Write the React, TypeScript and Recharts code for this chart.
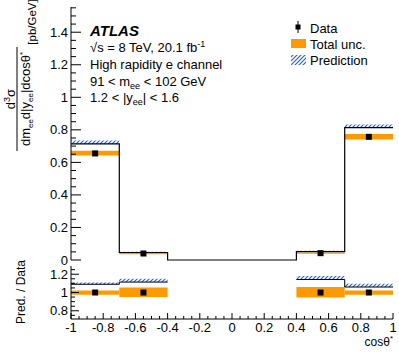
import React from 'react';
import { ComposedChart, Line, Scatter, XAxis, YAxis, ReferenceArea, Customized } from 'recharts';

// cos(theta*) binning
const binEdges = [-1, -0.7, -0.4, 0.4, 0.7, 1];
// bins that carry a measurement (index into binEdges)
const measuredBins = [0, 1, 3, 4];

// prediction histogram [pb/GeV], one value per bin
const predValues = [0.714, 0.046, 0, 0.052, 0.813];
const predBandHigh = [0.735, 0.051, 0, 0.057, 0.833];

// data points (measured bins only)
const dataX = [-0.85, -0.55, 0.55, 0.85];
const dataY = [0.655, 0.04, 0.042, 0.757];
const totUncLow = [0.643, 0.036, 0.038, 0.741];
const totUncHigh = [0.671, 0.044, 0.046, 0.774];

// ratio panel (measured bins only)
const ratioPred = [1.09, 1.114, 1.142, 1.06];
const ratioPredHigh = [1.11, 1.15, 1.18, 1.095];
const ratioUncLow = [0.975, 0.95, 0.945, 0.975];
const ratioUncHigh = [1.022, 1.055, 1.059, 1.022];
const ratioData = [1, 1, 1, 1];

// axis labels
const xMajor = [-1, -0.8, -0.6, -0.4, -0.2, 0, 0.2, 0.4, 0.6, 0.8, 1];
const yMajor = [0, 0.2, 0.4, 0.6, 0.8, 1, 1.2, 1.4];
const rMajor = [0.8, 1, 1.2];

const FONT = '"Liberation Sans", Arial, Helvetica, sans-serif';
const ORANGE = '#ff9900';

const steps = (a: number, b: number, s: number) => {
  const out: number[] = [];
  for (let v = a; v <= b + 1e-9; v += s) out.push(Math.round(v * 1000) / 1000);
  return out;
};
const xTicks = steps(-1, 1, 0.05);
const yTicks = steps(0, 1.55, 0.05);
const rTicks = steps(0.75, 1.25, 0.05);

const isMajor = (v: number, majors: number[]) => majors.some((m) => Math.abs(m - v) < 1e-6);

// ROOT style inward ticks, drawn by the axis' own tick renderer
const xTick = (majors: number[], big: number, small: number, dir: number, labels: boolean) => (p: any) => {
  const major = isMajor(p.payload.value, majors);
  return (
    <g>
      <line x1={p.x} x2={p.x} y1={p.y} y2={p.y + dir * (major ? big : small)} stroke="#000" />
      {labels && major && (
        <text x={p.x} y={p.y + 13} textAnchor="middle" fontSize={13} fontFamily={FONT} fill="#000">
          {String(p.payload.value)}
        </text>
      )}
    </g>
  );
};
const yTick = (majors: number[], big: number, small: number, dir: number, labels: boolean) => (p: any) => {
  const major = isMajor(p.payload.value, majors);
  return (
    <g>
      <line x1={p.x} x2={p.x + dir * (major ? big : small)} y1={p.y} y2={p.y} stroke="#000" />
      {labels && major && (
        <text x={p.x - 3} y={p.y + 4.5} textAnchor="end" fontSize={13} fontFamily={FONT} fill="#000">
          {String(p.payload.value)}
        </text>
      )}
    </g>
  );
};

const predHist = binEdges.map((x, i) => ({ x, y: predValues[Math.min(i, predValues.length - 1)] }));
const points = dataX.map((x, i) => ({ x, y: dataY[i] }));
const ratioPoints = dataX.map((x, i) => ({ x, y: ratioData[i] }));
const ratioLeft = [0, 1, 1].map((k, i) => ({ x: binEdges[i], y: ratioPred[k] }));
const ratioRight = [2, 3, 3].map((k, i) => ({ x: binEdges[i + 3], y: ratioPred[k] }));

const square = (p: any) => <rect x={p.cx - 3} y={p.cy - 3} width={6} height={6} fill="#000" />;

const TopText = () => (
  <g fontFamily={FONT} fill="#000">
    <text x={90} y={36} fontSize={15} fontWeight="bold" fontStyle="italic">ATLAS</text>
    <text x={90} y={52} fontSize={13}>
      √s = 8 TeV, 20.1 fb<tspan dy={-5} fontSize={9}>-1</tspan>
    </text>
    <text x={90} y={69} fontSize={13}>High rapidity e channel</text>
    <text x={90} y={85.5} fontSize={13}>
      91 &lt; m<tspan dy={3} fontSize={9}>ee</tspan>
      <tspan dy={-3}> &lt; 102 GeV</tspan>
    </text>
    <text x={90} y={102} fontSize={13}>
      1.2 &lt; |y<tspan dy={3} fontSize={9}>ee</tspan>
      <tspan dy={-3}>| &lt; 1.6</tspan>
    </text>

    {/* legend */}
    <line x1={298} x2={298} y1={21} y2={33} stroke="#000" />
    <rect x={295.5} y={24.5} width={5} height={5} fill="#000" />
    <text x={310} y={33} fontSize={13}>Data</text>
    <rect x={291} y={39} width={15} height={9} fill={ORANGE} />
    <text x={310} y={49} fontSize={13}>Total unc.</text>
    <rect x={291} y={55} width={15} height={10} fill="url(#hatchBlue)" />
    <text x={310} y={65} fontSize={13}>Prediction</text>

    {/* y axis title */}
    <g transform="translate(17,99) rotate(-90)">
      <text x={0} y={-2.5} textAnchor="middle" fontSize={13}>
        d<tspan dy={-5} fontSize={9}>3</tspan>
        <tspan dy={5}>σ</tspan>
      </text>
      <line x1={-52} x2={52} y1={0} y2={0} stroke="#000" />
      <text x={0} y={13} textAnchor="middle" fontSize={13}>
        dm<tspan dy={3} fontSize={8}>ee</tspan>
        <tspan dy={-3}>d|y</tspan>
        <tspan dy={3} fontSize={8}>ee</tspan>
        <tspan dy={-3}>|dcosθ</tspan>
        <tspan dy={-5} fontSize={8}>*</tspan>
      </text>
    </g>
    <text transform="translate(36,22) rotate(-90)" textAnchor="middle" fontSize={11.5}>[pb/GeV]</text>
  </g>
);

const BottomText = () => (
  <g fontFamily={FONT} fill="#000">
    <text transform="translate(25,32) rotate(-90)" textAnchor="middle" fontSize={12}>Pred. / Data</text>
    <text x={393} y={86} textAnchor="end" fontSize={12}>
      cosθ<tspan dy={-5} fontSize={8}>*</tspan>
    </text>
  </g>
);

const App: React.FC = () => {
  return (
    <div style={{ position: 'absolute', left: 0, top: 0, width: 399, height: 353, background: '#fff' }}>
      <svg width={0} height={0} style={{ position: 'absolute' }}>
        <defs>
          <pattern id="hatchBlue" patternUnits="userSpaceOnUse" width={4} height={4}>
            <path d="M-1,1 l2,-2 M0,4 l4,-4 M3,5 l2,-2" stroke="#1f63d8" strokeWidth={1.2} />
          </pattern>
        </defs>
      </svg>

      {/* main panel */}
      <div style={{ position: 'absolute', left: 0, top: 0 }}>
        <ComposedChart width={399} height={270} margin={{ top: 7, right: 6, bottom: 10, left: 0 }}>
          <XAxis dataKey="x" type="number" domain={[-1, 1]} ticks={xTicks} interval={0} height={0}
            tickSize={0} tickMargin={0} tickLine={false} axisLine={{ stroke: '#000' }}
            tick={xTick(xMajor, 8, 4, -1, false)} />
          <XAxis xAxisId="t" orientation="top" type="number" domain={[-1, 1]} ticks={xTicks} interval={0} height={0}
            tickSize={0} tickMargin={0} tickLine={false} axisLine={{ stroke: '#000' }}
            tick={xTick(xMajor, 8, 4, 1, false)} />
          <YAxis type="number" domain={[0, 1.555]} ticks={yTicks} interval={0} width={71}
            tickSize={0} tickMargin={0} tickLine={false} axisLine={{ stroke: '#000' }}
            tick={yTick(yMajor, 10, 5, 1, true)} />
          <YAxis yAxisId="r" orientation="right" type="number" domain={[0, 1.555]} ticks={yTicks} interval={0} width={0}
            tickSize={0} tickMargin={0} tickLine={false} axisLine={{ stroke: '#000' }}
            tick={yTick(yMajor, 10, 5, -1, false)} />

          {measuredBins.map((b, i) => (
            <ReferenceArea key={'u' + i} x1={binEdges[b]} x2={binEdges[b + 1]} y1={totUncLow[i]} y2={totUncHigh[i]}
              fill={ORANGE} fillOpacity={1} stroke="none" />
          ))}
          {measuredBins.map((b) => (
            <ReferenceArea key={'p' + b} x1={binEdges[b]} x2={binEdges[b + 1]} y1={predValues[b]} y2={predBandHigh[b]}
              fill="url(#hatchBlue)" fillOpacity={1} stroke="none" />
          ))}
          <Line data={predHist} dataKey="y" type="stepAfter" stroke="#000" strokeWidth={1.2} dot={false}
            isAnimationActive={false} />
          <Scatter data={points} dataKey="y" shape={square} isAnimationActive={false} />
          <Customized component={TopText} />
        </ComposedChart>
      </div>

      {/* ratio panel */}
      <div style={{ position: 'absolute', left: 0, top: 260 }}>
        <ComposedChart width={399} height={93} margin={{ top: 6, right: 6, bottom: 0, left: 0 }}>
          <XAxis dataKey="x" type="number" domain={[-1, 1]} ticks={xTicks} interval={0} height={34}
            tickSize={0} tickMargin={0} tickLine={false} axisLine={{ stroke: '#000' }}
            tick={xTick(xMajor, 6, 3, -1, true)} />
          <XAxis xAxisId="t" orientation="top" type="number" domain={[-1, 1]} ticks={xTicks} interval={0} height={0}
            tickSize={0} tickMargin={0} tickLine={false} axisLine={{ stroke: '#000' }}
            tick={xTick(xMajor, 6, 3, 1, false)} />
          <YAxis type="number" domain={[0.71, 1.29]} ticks={rTicks} interval={0} width={71}
            tickSize={0} tickMargin={0} tickLine={false} axisLine={{ stroke: '#000' }}
            tick={yTick(rMajor, 8, 4, 1, true)} />
          <YAxis yAxisId="r" orientation="right" type="number" domain={[0.71, 1.29]} ticks={rTicks} interval={0} width={0}
            tickSize={0} tickMargin={0} tickLine={false} axisLine={{ stroke: '#000' }}
            tick={yTick(rMajor, 8, 4, -1, false)} />

          {measuredBins.map((b, i) => (
            <ReferenceArea key={'u' + i} x1={binEdges[b]} x2={binEdges[b + 1]} y1={ratioUncLow[i]} y2={ratioUncHigh[i]}
              fill={ORANGE} fillOpacity={1} stroke="none" />
          ))}
          {measuredBins.map((b, i) => (
            <ReferenceArea key={'p' + i} x1={binEdges[b]} x2={binEdges[b + 1]} y1={ratioPred[i]} y2={ratioPredHigh[i]}
              fill="url(#hatchBlue)" fillOpacity={1} stroke="none" />
          ))}
          <Line data={ratioLeft} dataKey="y" type="stepAfter" stroke="#000" strokeWidth={1} dot={false}
            isAnimationActive={false} />
          <Line data={ratioRight} dataKey="y" type="stepAfter" stroke="#000" strokeWidth={1} dot={false}
            isAnimationActive={false} />
          <Scatter data={ratioPoints} dataKey="y" shape={square} isAnimationActive={false} />
          <Customized component={BottomText} />
        </ComposedChart>
      </div>
    </div>
  );
};

export default App;
